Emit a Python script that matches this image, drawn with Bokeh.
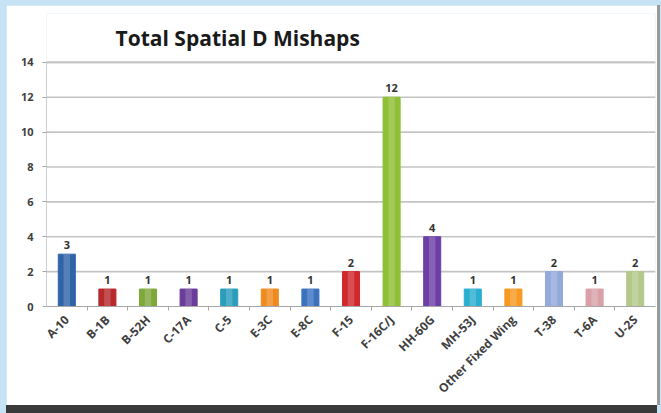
from bokeh.plotting import figure
from bokeh.models import ColumnDataSource, FixedTicker, Spacer
from bokeh.layouts import column, row
from bokeh.embed import file_html
from bokeh.resources import INLINE
from bokeh.core.properties import value
import math

# Spatial disorientation mishaps by aircraft type
aircraft = ["A-10", "B-1B", "B-52H", "C-17A", "C-5", "E-3C", "E-8C", "F-15",
            "F-16C/J", "HH-60G", "MH-53J", "Other Fixed Wing", "T-38", "T-6A", "U-2S"]
mishaps = [3, 1, 1, 1, 1, 1, 1, 2, 12, 4, 1, 1, 2, 1, 2]
bar_colors = ["#2f64a8", "#b7292b", "#7ea83a", "#6a3d9a", "#2a9dbb", "#ef8a1f",
              "#3b72c0", "#d0282c", "#8fbf35", "#6c3fa6", "#2aaed0", "#f79a22",
              "#93a9dc", "#d9a0a8", "#b3c98a"]
y_ticks = [0, 2, 4, 6, 8, 10, 12, 14]
y_max = 14

pos = list(range(len(aircraft)))
src = ColumnDataSource(dict(
    x=pos, top=mishaps, color=bar_colors,
    label=[str(v) for v in mishaps],
))

# the frame reaches above the top tick so the heading sits inside it
p = figure(width=651, height=400, output_backend="svg", toolbar_location=None,
           x_range=(-0.5, len(aircraft) - 0.5), y_range=(0, 16.8),
           min_border_left=40, min_border_right=2, min_border_top=8,
           min_border_bottom=98, background_fill_color="white",
           border_fill_color="white", outline_line_color=None,
           styles={"box-shadow": "3px 0px 0px #9a9a9a, 0px 8px 0px #3a3a3a"})

p.text(x=[1.2], y=[15.37], text=["Total Spatial D Mishaps"],
       text_font=value("Open Sans"), text_font_size="21px",
       text_font_style="bold", text_color="#1a1a1a",
       text_baseline="middle", text_align="left")

# gridlines and value axis line only span the tick range
p.segment(x0=[-0.5] * len(y_ticks), x1=[len(aircraft) - 0.5] * len(y_ticks),
          y0=y_ticks[1:] + [y_max], y1=y_ticks[1:] + [y_max],
          line_color="#c4c4c4", line_width=1.6)
p.segment(x0=[-0.5], x1=[-0.5], y0=[0], y1=[y_max],
          line_color="#a6a6a6", line_width=1)

# cylinder-like bars: base fill plus a soft highlight down the middle
p.vbar(x="x", top="top", width=0.42, bottom=0, source=src,
       fill_color="color", line_color="color", line_width=1)
p.vbar(x="x", top="top", width=0.16, bottom=0, source=src,
       fill_color="white", fill_alpha=0.18, line_color=None)

p.text(x="x", y="top", text="label", source=src, text_align="center",
       text_baseline="alphabetic", y_offset=-9, text_font_size="11px",
       text_font_style="bold", text_color="#333333",
       text_font=value("Open Sans"))

p.xgrid.grid_line_color = None
p.ygrid.grid_line_color = None

p.yaxis.ticker = FixedTicker(ticks=y_ticks)
p.yaxis.axis_line_color = None
p.yaxis.major_tick_line_color = "#a6a6a6"
p.yaxis.major_tick_out = 4
p.yaxis.major_tick_in = 0
p.yaxis.minor_tick_line_color = None
p.yaxis.major_label_text_font = "Open Sans"
p.yaxis.major_label_text_font_size = "11px"
p.yaxis.major_label_text_font_style = "bold"
p.yaxis.major_label_text_color = "#404040"
p.yaxis.major_label_standoff = 9

p.xaxis.ticker = FixedTicker(ticks=pos, minor_ticks=[i + 0.5 for i in pos[:-1]])
p.xaxis.major_label_overrides = {i: a for i, a in enumerate(aircraft)}
p.xaxis.major_label_orientation = math.pi / 4
p.xaxis.axis_line_color = "#a6a6a6"
p.xaxis.major_tick_line_color = None
p.xaxis.minor_tick_line_color = "#a6a6a6"
p.xaxis.minor_tick_out = 4
p.xaxis.minor_tick_in = 0
p.xaxis.major_label_text_font = "Open Sans"
p.xaxis.major_label_text_font_size = "12px"
p.xaxis.major_label_text_font_style = "bold"
p.xaxis.major_label_text_color = "#404040"
p.xaxis.major_label_standoff = 5

layout = row(Spacer(width=6), column(Spacer(height=5), p))

html = file_html(layout, INLINE)
html = html.replace("<head>", "<head><style>html, body {background-color: #c5e3f4; margin: 0;}</style>", 1)
with open("out.html", "w") as f:
    f.write(html)
